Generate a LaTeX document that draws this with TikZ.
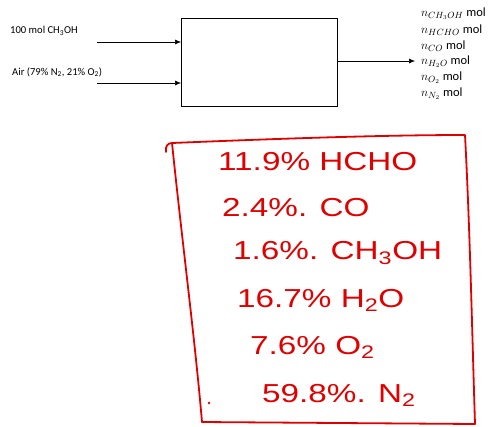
\documentclass[tikz,border=0pt]{standalone}
\usepackage{fontspec}
\setmainfont{Carlito}
\newfontfamily\hand{Liberation Sans}
\usetikzlibrary{arrows.meta,calc}
\definecolor{pen}{RGB}{225,0,0}
\newcommand{\hw}[1]{\scalebox{1.28}[1]{#1}}
\begin{document}
\begin{tikzpicture}[x=1pt,y=-1pt,
  flow/.style={-{Latex[length=6pt,width=5pt]},line width=0.6pt},
  lab/.style={anchor=west,inner sep=0pt,font=\fontsize{10.6}{12}\selectfont},
  outlab/.style={anchor=west,inner sep=0pt,font=\fontsize{12.5}{14}\selectfont},
  redtxt/.style={anchor=west,inner sep=0pt,text=pen,font=\hand\fontsize{26}{28}\selectfont},
  redline/.style={draw=pen,line width=1.8pt,line cap=round,line join=round}]
\useasboundingbox (0,0) rectangle (497,426);
% process box
\node[draw,line width=0.6pt,minimum width=156pt,minimum height=88pt,anchor=north west,inner sep=0pt] (box) at (181,18) {};
% inputs
\node[lab] (l1) at (10,31) {100 mol CH\textsubscript{3}OH};
\node[lab] (l2) at (12,72) {Air (79\% N\textsubscript{2}, 21\% O\textsubscript{2})};
\coordinate (i1) at (97,42);
\coordinate (i2) at (97,83);
\draw[flow] (i1) -- (i1 -| box.west);
\draw[flow] (i2) -- (i2 -| box.west);
% output
\coordinate (o) at (415,61);
\draw[flow] (o -| box.east) -- (o);
\node[outlab] (n1) at (421,14) {$n_{\scriptstyle CH_3OH}$ mol};
\node[outlab] (n2) at (421,30) {$n_{\scriptstyle HCHO}$ mol};
\node[outlab] (n3) at (421,46) {$n_{\scriptstyle CO}$ mol};
\node[outlab] (n4) at (421,62) {$n_{\scriptstyle H_2O}$ mol};
\node[outlab] (n5) at (421,78) {$n_{\scriptstyle O_2}$ mol};
\node[outlab] (n6) at (421,94) {$n_{\scriptstyle N_2}$ mol};
% hand-drawn red box
\coordinate (tl) at (172,143);
\coordinate (tr) at (465,135);
\coordinate (br) at (475,424);
\coordinate (bl) at (202,422);
\draw[redline] (166,152) .. controls (165,146) and (168,143) .. (tl)
  .. controls (270,139) and (380,135) .. (tr)
  .. controls (470,230) and (472,330) .. (br);
\draw[redline] (tl) .. controls (182,240) and (195,340) .. (bl);
\draw[redline] (bl) -- (br);
\fill[pen] (209,403) circle (1.3pt);
% red text
\node[redtxt] (t1) at (218,162) {\hw{11.9\% HCHO}};
\node[redtxt] (t2) at (222,208) {\hw{2.4\%. CO}};
\node[redtxt] (t3) at (233,253) {\hw{1.6\%. CH\textsubscript{3}OH}};
\node[redtxt] (t4) at (237,300) {\hw{16.7\% H\textsubscript{2}O}};
\node[redtxt] (t5) at (250,347) {\hw{7.6\% O\textsubscript{2}}};
\node[redtxt] (t6) at (262,395) {\hw{59.8\%. N\textsubscript{2}}};
\end{tikzpicture}
\end{document}
